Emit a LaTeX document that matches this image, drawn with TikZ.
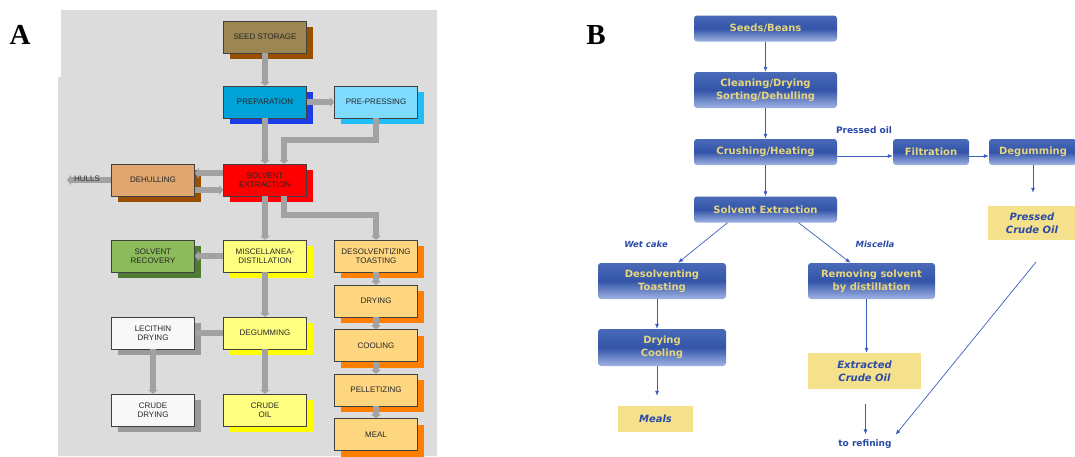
\documentclass[tikz,border=0pt]{standalone}
\usepackage{fontspec}
\setmainfont{Liberation Serif}
\newfontfamily\arialfont{Liberation Sans}
\newfontfamily\verdfont{DejaVu Sans}
\usetikzlibrary{positioning}
\usetikzlibrary{shadows}
\usetikzlibrary{arrows.meta}

\definecolor{panelgray}{HTML}{DCDCDC}
\definecolor{pipegray}{HTML}{A2A2A2}
\definecolor{seedfill}{HTML}{9C8752}
\definecolor{brownsh}{HTML}{9A4F00}
\definecolor{prepfill}{HTML}{00A2D8}
\definecolor{prepsh}{HTML}{1A3DE8}
\definecolor{pressfill}{HTML}{80DCFF}
\definecolor{presssh}{HTML}{20BDF8}
\definecolor{dehullfill}{HTML}{DFA66F}
\definecolor{recfill}{HTML}{8CBB5C}
\definecolor{recsh}{HTML}{4E7A34}
\definecolor{yelfill}{HTML}{FFFF80}
\definecolor{yelsh}{HTML}{FFFF00}
\definecolor{orfill}{HTML}{FFD680}
\definecolor{orsh}{HTML}{FF8000}
\definecolor{whitefill}{HTML}{F8F8F8}
\definecolor{graysh}{HTML}{9A9A9A}
\definecolor{bluetop}{HTML}{4A6AB8}
\definecolor{bluemid}{HTML}{3354A8}
\definecolor{bluebot}{HTML}{A0B3E3}
\definecolor{steptext}{HTML}{E6D67E}
\definecolor{linkblue}{HTML}{3C5CC0}
\definecolor{prodfill}{HTML}{F5E08C}
\definecolor{prodtext}{HTML}{2A4AA8}

\begin{document}
\begin{tikzpicture}[x = 1pt, y = -1pt,
	boxa/.style = {draw = black!75, line width = 0.5pt, minimum width = 83pt, minimum height = 32pt,
		inner sep = 1pt, align = center, text = black!85,
		font = \arialfont\fontsize{8}{9.5}\selectfont},
	sh/.style = {drop shadow = {fill = #1, opacity = 1, shadow xshift = 6pt, shadow yshift = -6pt}},
	pipe/.style = {draw = pipegray, line width = 6pt},
	flow/.style = {pipe, -{Triangle[length = 4pt, width = 10pt]}},
	stepb/.style = {rounded corners = 3pt, top color = bluetop, bottom color = bluebot, middle color = bluemid,
		minimum height = 26pt, align = center, text = steptext, inner sep = 1pt,
		font = \verdfont\bfseries\fontsize{10}{13}\selectfont},
	prod/.style = {fill = prodfill, align = center, text = prodtext, inner sep = 1pt,
		font = \verdfont\bfseries\itshape\fontsize{10}{13}\selectfont},
	arrb/.style = {draw = linkblue, line width = 0.7pt, -{Latex[length = 5pt, width = 4pt]}},
	tagb/.style = {text = prodtext, inner sep = 0pt, font = \verdfont\bfseries\fontsize{9}{11}\selectfont}]

	\useasboundingbox (0, 0) rectangle (1075, 456);

	\fill [panelgray] (61, 10) -- (437, 10) -- (437, 456) -- (58, 456) -- (58, 77) -- (61, 77) -- cycle;
	\node at (20, 35) [font = \bfseries\fontsize{29}{30}\selectfont] (labA) {A};
	\node at (596, 35) [font = \bfseries\fontsize{29}{30}\selectfont] (labB) {B};

	\node (seed) at (265, 37) [boxa, sh = brownsh, fill = seedfill] {SEED STORAGE};
	\node (prep) at (265, 102) [boxa, sh = prepsh, fill = prepfill] {PREPARATION};
	\node (prepress) at (376, 102) [boxa, sh = presssh, fill = pressfill] {PRE-PRESSING};
	\node (solv) at (265, 180) [boxa, sh = red, fill = red] {SOLVENT\\EXTRACTION};
	\node (dehull) at (153, 180) [boxa, sh = brownsh, fill = dehullfill] {DEHULLING};
	\node (recov) at (153, 256) [boxa, sh = recsh, fill = recfill] {SOLVENT\\RECOVERY};
	\node (misc) at (265, 256) [boxa, sh = yelsh, fill = yelfill] {MISCELLANEA-\\DISTILLATION};
	\node (desolv) at (376, 256) [boxa, sh = orsh, fill = orfill] {DESOLVENTIZING\\TOASTING};
	\node (dry) at (376, 301) [boxa, sh = orsh, fill = orfill] {DRYING};
	\node (lecit) at (153, 333) [boxa, sh = graysh, fill = whitefill] {LECITHIN\\DRYING};
	\node (degum) at (265, 333) [boxa, sh = yelsh, fill = yelfill] {DEGUMMING};
	\node (cool) at (376, 345.5) [boxa, sh = orsh, fill = orfill] {COOLING};
	\node (pellet) at (376, 390) [boxa, sh = orsh, fill = orfill] {PELLETIZING};
	\node (crudedry) at (153, 410) [boxa, sh = graysh, fill = whitefill] {CRUDE\\DRYING};
	\node (crudeoil) at (265, 410) [boxa, sh = yelsh, fill = yelfill] {CRUDE\\OIL};
	\node (meal) at (376, 434.5) [boxa, sh = orsh, fill = orfill] {MEAL};

	\draw [flow] (seed) -- (prep);
	\draw [flow] (prep) -- (prepress);
	\draw [flow] (prep) -- (solv);
	\draw [flow] (prepress.south) -- ++(0, 22) -| ([xshift = 19pt]solv.north);
	\draw [flow] ([yshift = 7pt]solv.west) -- ([yshift = 7pt]dehull.east);
	\draw [flow] ([yshift = -10pt]dehull.east) -- ([yshift = -10pt]solv.west);
	\coordinate (hullsend) at (67, 180);
	\draw [flow] (dehull.west) -- (hullsend);
	\node (hulls) at (87, 179) [text = black!80, inner sep = 0pt, font = \arialfont\fontsize{8}{9}\selectfont] {HULLS};
	\draw [flow] (solv) -- (misc);
	\draw [flow] ([xshift = 19pt]solv.south) -- ++(0, 19) -| (desolv.north);
	\draw [flow] (misc) -- (recov);
	\draw [flow] (misc) -- (degum);
	\draw [pipe] (degum) -- (lecit);
	\draw [flow] (lecit) -- (crudedry);
	\draw [flow] (degum) -- (crudeoil);
	\draw [flow] (desolv) -- (dry);
	\draw [flow] (dry) -- (cool);
	\draw [flow] (cool) -- (pellet);
	\draw [flow] (pellet) -- (meal);

	\node (seeds) at (765.5, 28.5) [stepb, minimum width = 143pt] {Seeds/Beans};
	\node (clean) at (765.5, 90) [stepb, minimum width = 143pt, minimum height = 36pt] {Cleaning/Drying\\Sorting/Dehulling};
	\node (crush) at (765.5, 152) [stepb, minimum width = 143pt] {Crushing/Heating};
	\node (filt) at (931, 152) [stepb, minimum width = 76pt] {Filtration};
	\node (degb) at (1033, 152) [stepb, minimum width = 88pt] {Degumming};
	\node (solvb) at (765.5, 209.5) [stepb, minimum width = 143pt] {Solvent Extraction};
	\node (desolvb) at (662, 281) [stepb, minimum width = 128pt, minimum height = 36pt] {Desolventing\\Toasting};
	\node (remov) at (871.5, 281) [stepb, minimum width = 127pt, minimum height = 36pt] {Removing solvent\\by distillation};
	\node (drycool) at (662, 347.5) [stepb, minimum width = 128pt, minimum height = 37pt] {Drying\\Cooling};
	\node (meals) at (655.5, 419) [prod, minimum width = 75pt, minimum height = 26pt] {Meals};
	\node (extr) at (864.5, 371) [prod, minimum width = 113pt, minimum height = 36pt] {Extracted\\Crude Oil};
	\node (pressed) at (1032, 223) [prod, minimum width = 88pt, minimum height = 34pt] {Pressed\\Crude Oil};

	\node (poil) at (864, 130) [tagb] {Pressed oil};
	\node (wet) at (646, 244) [tagb, font = \verdfont\bfseries\itshape\fontsize{8.5}{10}\selectfont] {Wet cake};
	\node (misca) at (875, 244) [tagb, font = \verdfont\bfseries\itshape\fontsize{8.5}{10}\selectfont] {Miscella};
	\node (refin) at (865, 444) [tagb] {to refining};

	\draw [arrb] (seeds) -- (clean);
	\draw [arrb] (clean) -- (crush);
	\draw [arrb] ([yshift = -4pt]crush.east) -- ([yshift = -4pt]filt.west);
	\draw [arrb] ([yshift = -4pt]filt.east) -- ([yshift = -4pt]degb.west);
	\draw [arrb, shorten > = 13pt] (degb.south) -- (degb.south |- pressed.north);
	\draw [arrb] (crush) -- (solvb);
	\draw [arrb] ([xshift = -38pt]solvb.south) -- ([xshift = 16pt]desolvb.north);
	\draw [arrb] ([xshift = 33pt]solvb.south) -- ([xshift = -21pt]remov.north);
	\draw [arrb] ([xshift = -5pt]desolvb.south) -- ([xshift = -5pt]drycool.north);
	\draw [arrb, shorten > = 10pt] ([xshift = -5pt]drycool.south) -- ([xshift = -5pt]drycool.south |- meals.north);
	\draw [arrb] ([xshift = -5pt]remov.south) -- ([xshift = -5pt]remov.south |- extr.north);
	\draw [arrb, shorten < = 15pt, shorten > = 5pt] ([xshift = 1pt]extr.south) -- ([xshift = 1pt]extr.south |- refin.north);
	\coordinate (pcstart) at (1036, 262);
	\draw [arrb, shorten > = 6pt] (pcstart) -- (refin.north east);
\end{tikzpicture}
\end{document}
